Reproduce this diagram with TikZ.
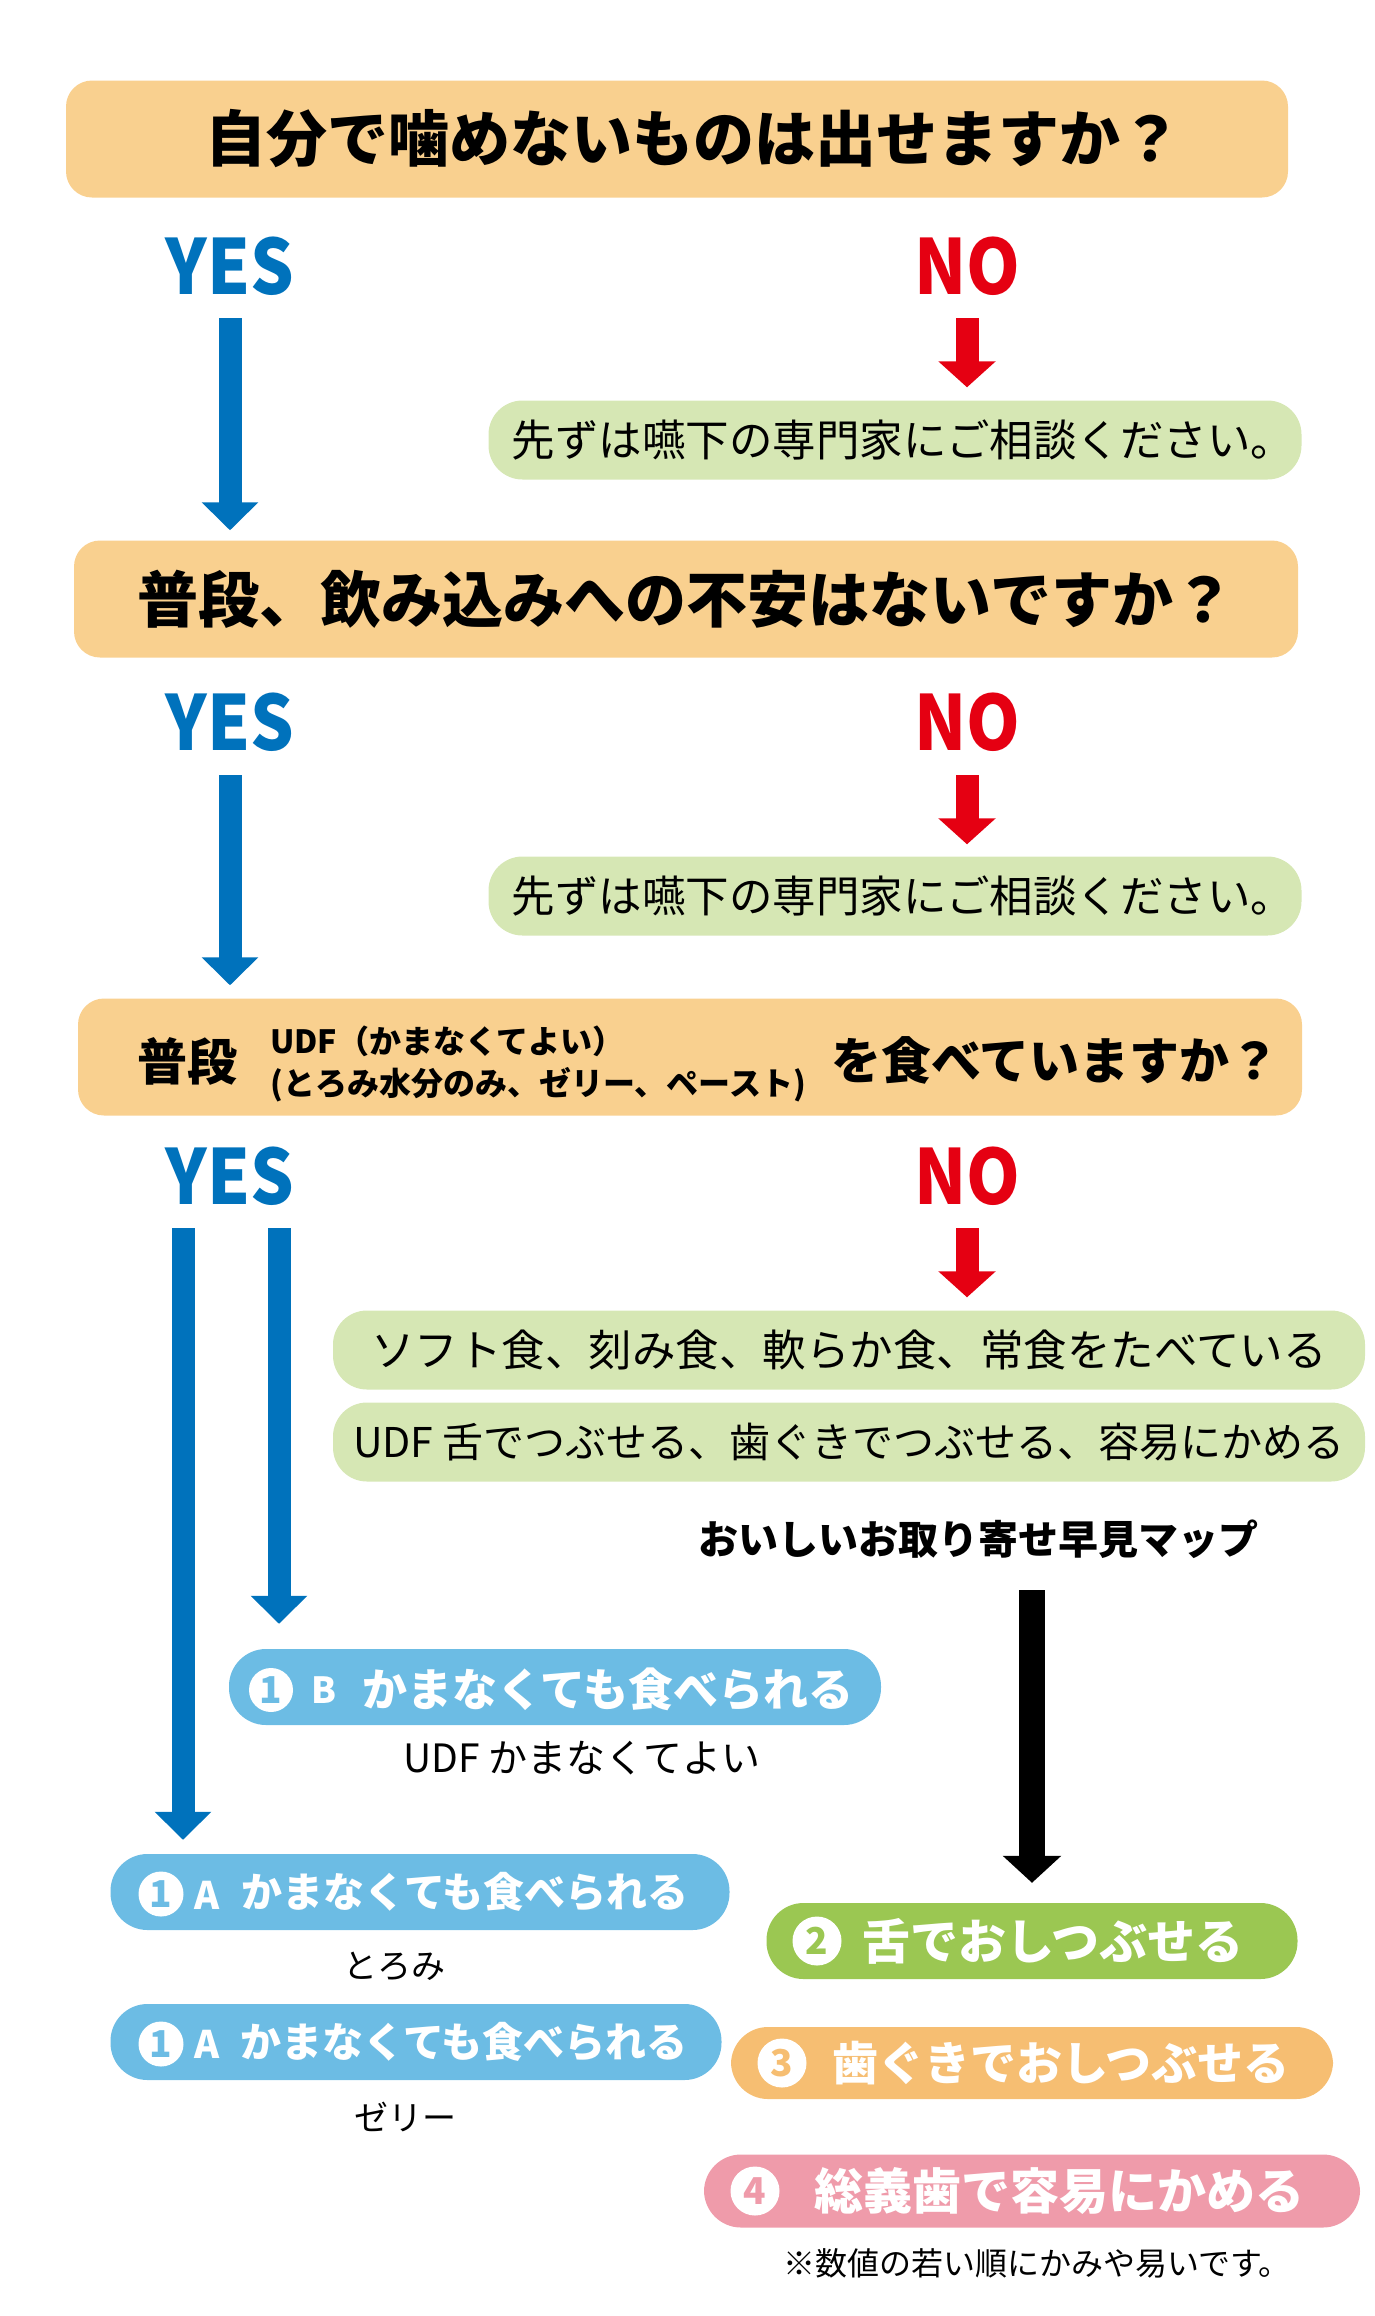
\documentclass[tikz,border=0pt]{standalone}
\usepackage{fontspec}
\setmainfont{Noto Sans CJK JP}
\newfontfamily\yesnofont{Noto Sans CJK JP}[FakeStretch=0.9]
\usetikzlibrary{arrows.meta}

\definecolor{qorange}{RGB}{249,208,143}
\definecolor{advgreen}{RGB}{214,231,180}
\definecolor{yesblue}{RGB}{0,114,188}
\definecolor{nored}{RGB}{229,0,18}
\definecolor{pillblue}{RGB}{108,188,228}
\definecolor{pillgreen}{RGB}{155,199,82}
\definecolor{pillorange}{RGB}{246,190,114}
\definecolor{pillpink}{RGB}{239,155,170}

\tikzset{
  qbox/.style={fill=qorange, rounded corners=26pt, minimum height=117pt, inner sep=0pt,
    font=\bfseries\fontsize{61}{62}\selectfont},
  advbox/.style={fill=advgreen, rounded corners=34pt, minimum height=79pt, inner sep=0pt,
    font=\fontsize{#1}{#1}\selectfont},
  pill/.style={rounded corners=37pt, minimum height=76pt, inner sep=0pt},
  pilltxt/.style={anchor=west, inner sep=0pt, text=white, font=\bfseries\fontsize{#1}{#1}\selectfont},
  numdot/.style={circle, fill=white, inner sep=0pt, minimum size=#1, font=\bfseries\fontsize{37}{37}\selectfont},
  yeslbl/.style={inner sep=0pt, text=yesblue, font=\yesnofont\bfseries\fontsize{76}{76}\selectfont},
  nolbl/.style={inner sep=0pt, text=nored, font=\yesnofont\bfseries\fontsize{76}{76}\selectfont},
  plain/.style={inner sep=0pt, font=\fontsize{#1}{#1}\selectfont},
  yesarrow/.style={draw=yesblue, line width=23pt, -{Triangle[width=55pt,length=28pt]}},
  noarrow/.style={draw=nored, line width=23pt, -{Triangle[width=56pt,length=26pt]}},
  maparrow/.style={draw=black, line width=26pt, -{Triangle[width=57pt,length=27pt]}}
}

\begin{document}
\begin{tikzpicture}[x=1pt,y=-1pt]
  \useasboundingbox (0,0) rectangle (1375,2316);

  %%%%% question 1 %%%%%
  \node[qbox, minimum width=1222pt] (q1) at (677,139) {\hspace*{32pt}自分で噛めないものは出せますか？};
  \node[yeslbl] (yes1) at (230,266) {YES};
  \node[nolbl] (no1) at (967,266) {NO};
  \node[advbox=43.5, minimum width=813pt] (adv1) at (895,440) {\hspace*{16pt}先ずは嚥下の専門家にご相談ください。};
  \draw[noarrow, shorten <=52pt, shorten >=13pt] (no1.center) -- (no1.center |- adv1.north);

  %%%%% question 2 %%%%%
  \node[qbox, minimum width=1224pt] (q2) at (686,599) {普段、飲み込みへの不安はないですか？};
  \draw[yesarrow, shorten <=52pt, shorten >=10pt] (yes1.center) -- (yes1.center |- q2.north);
  \node[yeslbl] (yes2) at (230,722) {YES};
  \node[nolbl] (no2) at (967,722) {NO};
  \node[advbox=43.5, minimum width=813pt] (adv2) at (895,896) {\hspace*{16pt}先ずは嚥下の専門家にご相談ください。};
  \draw[noarrow, shorten <=53pt, shorten >=12pt] (no2.center) -- (no2.center |- adv2.north);

  %%%%% question 3 %%%%%
  \node[qbox, minimum width=1224pt] (q3) at (690,1057) {};
  \draw[yesarrow, shorten <=53pt, shorten >=13pt] (yes2.center) -- (yes2.center |- q3.north);
  \node[inner sep=0pt, font=\bfseries\fontsize{50}{50}\selectfont] (q3a) at (187,1061) {普段};
  \node[anchor=west, align=left, inner sep=0pt, font=\bfseries\fontsize{32}{42}\selectfont] (q3b) at (270,1064)
    {UDF（かまなくてよい）\\(とろみ水分のみ、ゼリー、ペースト)};
  \node[anchor=west, inner sep=0pt, font=\bfseries\fontsize{50}{50}\selectfont] (q3c) at (831,1060) {を食べていますか？};
  \node[yeslbl] (yes3) at (230,1176) {YES};
  \node[nolbl] (no3) at (967,1176) {NO};

  %%%%% NO side %%%%%
  \node[advbox=43.5, minimum width=1032pt] (adv3) at (849,1350) {ソフト食、刻み食、軟らか食、常食をたべている};
  \node[advbox=41, minimum width=1032pt] (adv4) at (849,1442) {UDF 舌でつぶせる、歯ぐきでつぶせる、容易にかめる};
  \draw[noarrow, shorten <=52pt, shorten >=13pt] (no3.center) -- (no3.center |- adv3.north);
  \node[inner sep=0pt, font=\bfseries\fontsize{40}{40}\selectfont] (map) at (978,1539) {おいしいお取り寄せ早見マップ};

  %%%%% results %%%%%
  \node[pill, fill=pillblue, minimum width=652pt] (r1b) at (555,1687) {};
  \node[numdot=44pt, text=pillblue] (d1b) at (271,1690) {1};
  \node[pilltxt=36, anchor=center] (l1b) at (324,1690) {B};
  \node[pilltxt=45] (t1b) at (362,1689) {かまなくても食べられる};
  \node[plain=39] (s1b) at (582,1758) {UDF かまなくてよい};

  \node[pill, fill=pillblue, minimum width=619pt] (r1a) at (420,1892) {};
  \node[numdot=45pt, text=pillblue] (d1a) at (161,1894) {1};
  \node[pilltxt=38, anchor=center] (l1a) at (207,1895) {A};
  \node[pilltxt=41] (t1a) at (241,1892) {かまなくても食べられる};
  \node[plain=34] (s1a) at (394,1966) {とろみ};

  \node[pill, fill=pillblue, minimum width=611pt] (r1c) at (416,2042) {};
  \node[numdot=45pt, text=pillblue] (d1c) at (161,2044) {1};
  \node[pilltxt=38, anchor=center] (l1c) at (207,2044) {A};
  \node[pilltxt=41] (t1c) at (240,2042) {かまなくても食べられる};
  \node[plain=34] (s1c) at (405,2117) {ゼリー};

  \node[pill, fill=pillgreen, minimum width=531pt] (r2) at (1032,1941) {};
  \node[numdot=49pt, text=pillgreen] (d2) at (817,1941) {2};
  \node[pilltxt=48] (t2) at (862,1941) {舌でおしつぶせる};

  \node[pill, fill=pillorange, minimum width=602pt, minimum height=72pt] (r3) at (1032,2063) {};
  \node[numdot=49pt, text=pillorange] (d3) at (782,2063) {3};
  \node[pilltxt=46] (t3) at (832,2063) {歯ぐきでおしつぶせる};

  \node[pill, fill=pillpink, minimum width=656pt, minimum height=73pt] (r4) at (1032,2191) {};
  \node[numdot=49pt, text=pillpink] (d4) at (755,2191) {4};
  \node[pilltxt=49] (t4) at (814,2191) {総義歯で容易にかめる};
  \node[plain=32] (note) at (1037,2263) {※数値の若い順にかみや易いです。};

  %%%%% YES arrows %%%%%
  \draw[yesarrow, shorten <=52pt, shorten >=14pt] ([xshift=-47pt]yes3.center) -- ([xshift=-47pt]yes3.center |- r1a.north);
  \draw[yesarrow, shorten <=52pt, shorten >=25pt] ([xshift=49pt]yes3.center) -- ([xshift=49pt]yes3.center |- r1b.north);
  \draw[maparrow, shorten <=51pt, shorten >=20pt] (map -| r2) -- (r2.north);
\end{tikzpicture}
\end{document}
